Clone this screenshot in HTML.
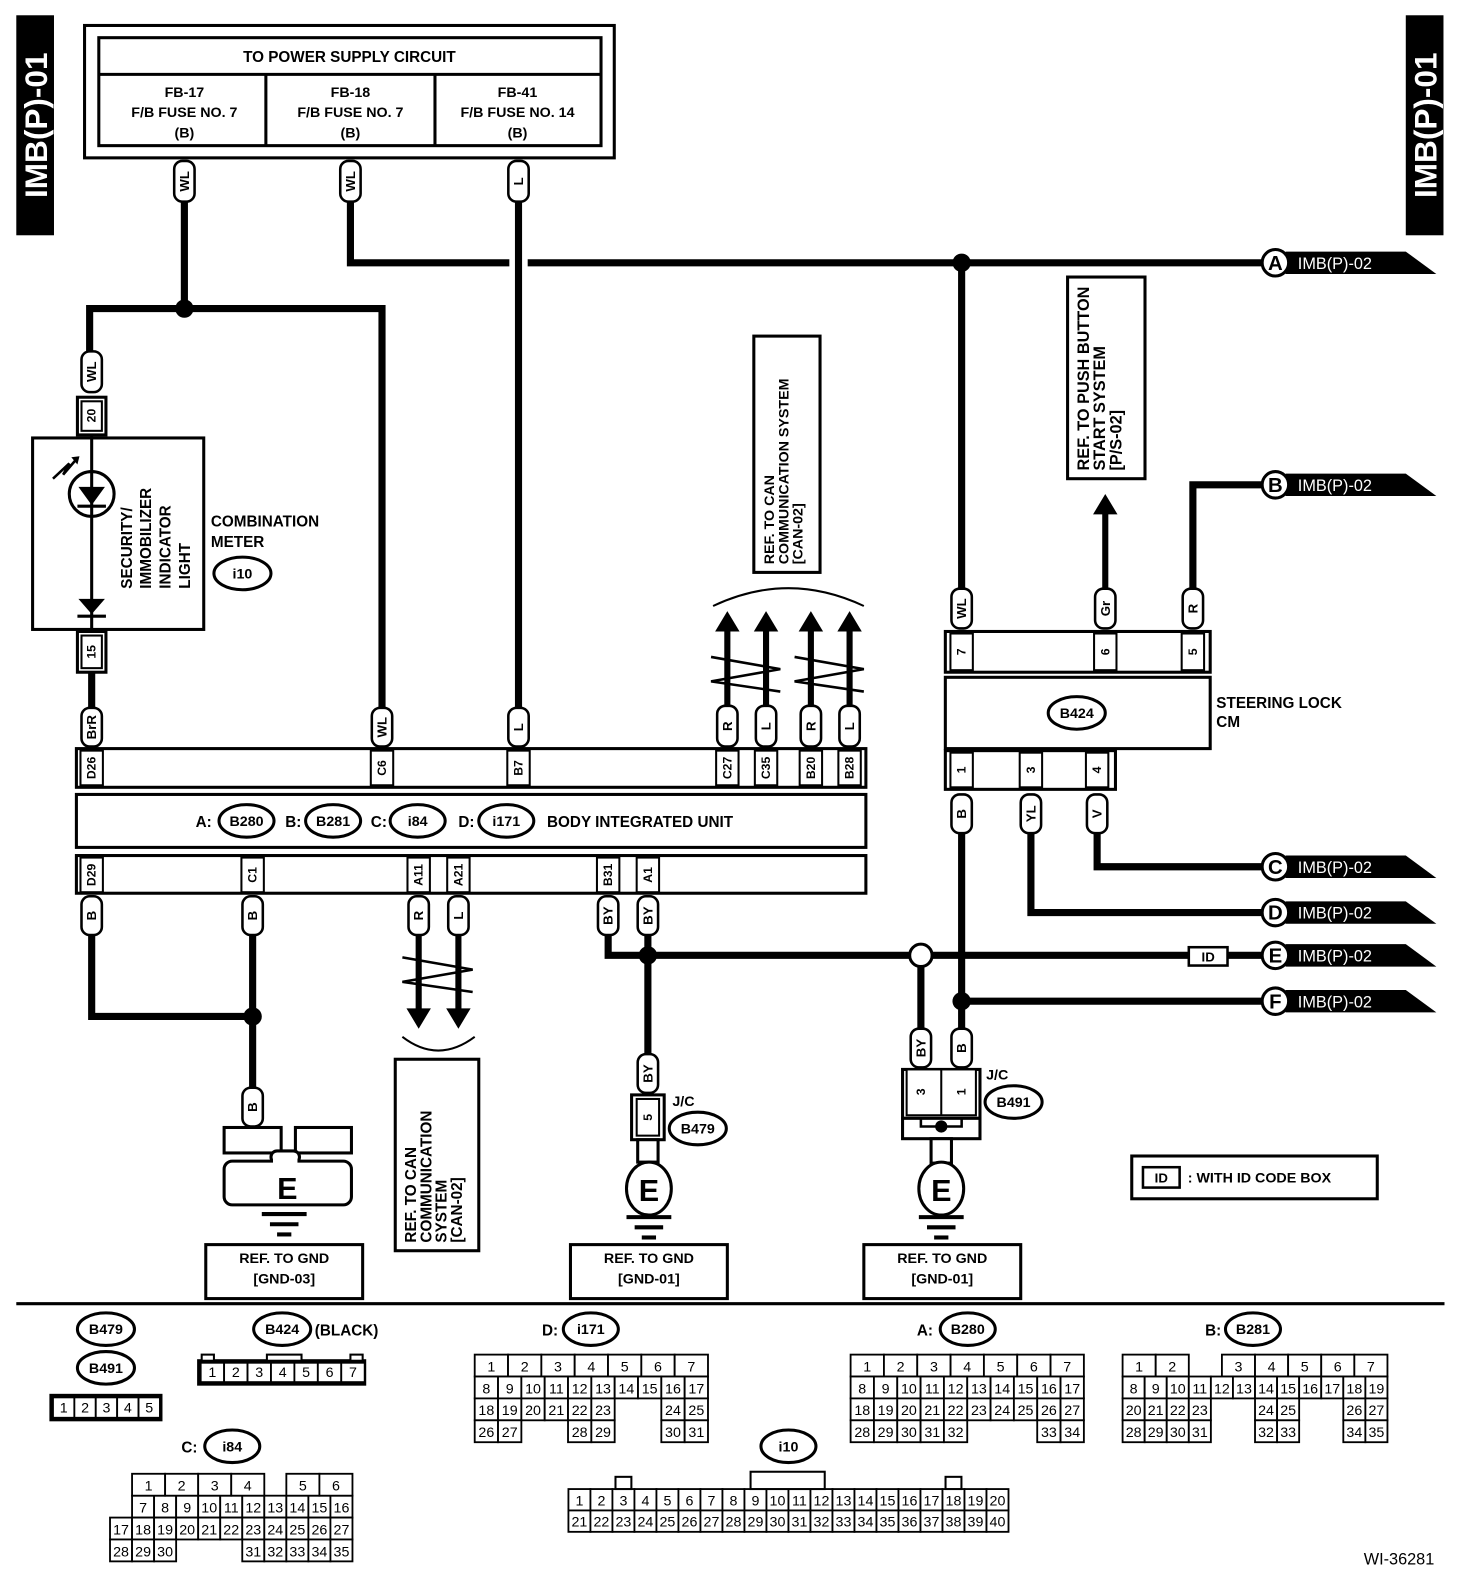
<!DOCTYPE html>
<html><head><meta charset="utf-8"><style>
html,body{margin:0;padding:0;background:#fff}
svg{display:block}
text{font-family:"Liberation Sans",sans-serif;font-weight:bold;fill:#000}
</style></head><body>
<svg id="s" width="1472" height="1596" viewBox="0 0 1445 1567" preserveAspectRatio="none" xmlns="http://www.w3.org/2000/svg">
<rect x="0" y="0" width="1445" height="1567" fill="#fff"/>
<g id="g"></g>
</svg>
<script>
const g=document.getElementById('g');let h='';
function L(x1,y1,x2,y2,w){h+=`<line x1="${x1}" y1="${y1}" x2="${x2}" y2="${y2}" stroke="#000" stroke-width="${w||7}"/>`;}
function P(pts,w){h+=`<polyline points="${pts}" fill="none" stroke="#000" stroke-width="${w||7}" stroke-linejoin="miter"/>`;}
function R(x,y,w,hh,sw,f){h+=`<rect x="${x}" y="${y}" width="${w}" height="${hh}" fill="${f||'#fff'}" stroke="#000" stroke-width="${sw||3}"/>`;}
function T(x,y,t,s,a,extra){h+=`<text x="${x}" y="${y}" font-size="${s||14}" text-anchor="${a||'middle'}" ${extra||''}>${t}</text>`;}
function VT(x,y,t,s,a){h+=`<text transform="translate(${x},${y}) rotate(-90)" font-size="${s||13}" text-anchor="${a||'middle'}" dominant-baseline="central">${t}</text>`;}
function D(x,y,r){h+=`<circle cx="${x}" cy="${y}" r="${r||9}" fill="#000"/>`;}
function pill(x,y1,y2,t){h+=`<rect x="${x-10}" y="${y1}" width="20" height="${y2-y1}" rx="8" fill="#fff" stroke="#000" stroke-width="2.5"/>`;VT(x,(y1+y2)/2,t,13);}
function oval(x,y,t,w){w=w||30;h+=`<ellipse cx="${x}" cy="${y}" rx="${w}" ry="16" fill="#fff" stroke="#000" stroke-width="3"/>`;T(x,y+5,t,14);}
function pin(x,y,hh,t){R(x-11,y,22,hh,2);VT(x,y+hh/2,t,12);}
function tag(y,l){h+=`<polygon points="1262,${y-11} 1380,${y-11} 1410,${y+11} 1262,${y+11}" fill="#000"/>`;h+=`<circle cx="1252" cy="${y}" r="13" fill="#fff" stroke="#000" stroke-width="3"/>`;T(1252,y+7,l,20);h+=`<text x="1274" y="${y+6}" font-size="16" style="fill:#fff;font-weight:normal">IMB(P)-02</text>`;}
function upArrow(x,yt,yb){L(x,yb,x,yt+18,6);h+=`<polygon points="${x-12},${yt+20} ${x},${yt} ${x+12},${yt+20}" fill="#000"/>`;}
function dnArrow(x,yt,yb){L(x,yt,x,yb-18,6);h+=`<polygon points="${x-12},${yb-20} ${x},${yb} ${x+12},${yb-20}" fill="#000"/>`;}
function twist(x1,x2,y){P(`${x1-16},${y} ${x2+14},${y+12} ${x1-16},${y+24} ${x2+14},${y+34}`,2.5);}
function gnd(x,y){L(x-22,y,x+22,y,4);L(x-14,y+10,x+14,y+10,4);L(x-7,y+20,x+7,y+20,4);}
function refbox(x,y,w,hh,lines){R(x,y,w,hh,3);lines.forEach((l,i)=>T(x+w/2,y+18+i*20,l,14));}
function vref(x,y,w,hh,lines,s){R(x,y,w,hh,3);lines.forEach((l,i)=>VT(x+16+i*(s||15),y+hh-8,l,s||14,'start'));}

h+=`<rect x="16" y="15" width="37" height="216" fill="#000"/><rect x="1380" y="15" width="37" height="216" fill="#000"/>`;
h+=`<text transform="translate(46,123) rotate(-90)" font-size="31" text-anchor="middle" style="fill:#fff">IMB(P)-01</text>`;
h+=`<text transform="translate(1410,123) rotate(-90)" font-size="31" text-anchor="middle" style="fill:#fff">IMB(P)-01</text>`;

R(83,25,520,130,3);R(97,37,493,106,3);L(97,73,590,73,3);L(261,73,261,143,3);L(427,73,427,143,3);
T(343,61,'TO POWER SUPPLY CIRCUIT',15);
[[181,'FB-17','F/B FUSE NO. 7'],[344,'FB-18','F/B FUSE NO. 7'],[508,'FB-41','F/B FUSE NO. 14']].forEach(c=>{T(c[0],95,c[1],14);T(c[0],115,c[2],14);T(c[0],135,'(B)',14);});

L(181,198,181,303);P('88,345 88,303 375,303 375,695');D(181,303);
P('344,198 344,258 500,258');L(518,258,1240,258);D(944,258);
L(509,198,509,695);
pill(181,158,198,'WL');pill(344,158,198,'WL');pill(509,158,198,'L');
tag(258,'A');

R(32,430,168,188,3);
L(90,425,90,622,3);
R(76,390,28,37,3);R(80,394,20,29,2);VT(90,408,'20',12);
R(76,620,28,40,3);R(80,624,20,32,2);VT(90,640,'15',12);
pill(90,345,385,'WL');
h+=`<circle cx="90" cy="485" r="22" fill="#fff" stroke="#000" stroke-width="3"/>`;L(90,463,90,507,3);
h+=`<polygon points="77,478 103,478 90,496" fill="#000"/>`;L(76,497,104,497,3);
h+=`<polyline points="52,470 68,455 62,466 74,452" fill="none" stroke="#000" stroke-width="2.5"/><polygon points="70,449 78,448 76,456" fill="#000"/>`;
h+=`<polygon points="77,588 103,588 90,603" fill="#000"/>`;L(76,605,104,605,3);
['SECURITY/','IMMOBILIZER','INDICATOR','LIGHT'].forEach((t,i)=>VT(125+i*19,578,t,15,'start'));
T(207,517,'COMBINATION',15,'start');T(207,537,'METER',15,'start');oval(238,563,'i10',28);
L(90,660,90,695);pill(90,695,733,'BrR');pill(375,695,733,'WL');pill(509,695,733,'L');

R(75,735,775,38,3);R(75,780,775,52,3);R(75,840,775,37,3);
[[90,'D26'],[375,'C6'],[509,'B7'],[714,'C27'],[752,'C35'],[796,'B20'],[834,'B28']].forEach(p=>pin(p[0],737,34,p[1]));
[[90,'D29'],[248,'C1'],[411,'A11'],[450,'A21'],[597,'B31'],[636,'A1']].forEach(p=>pin(p[0],842,34,p[1]));
T(192,812,'A:',15,'start');oval(242,806,'B280',27);T(280,812,'B:',15,'start');oval(327,806,'B281',27);
T(364,812,'C:',15,'start');oval(410,806,'i84',27);T(450,812,'D:',15,'start');oval(497,806,'i171',27);
T(537,812,'BODY INTEGRATED UNIT',15,'start');

[[714,'R'],[752,'L'],[796,'R'],[834,'L']].forEach(p=>{upArrow(p[0],600,693);pill(p[0],693,733,p[1]);});
twist(714,752,645);twist(796,834,645);
h+=`<path d="M700,595 Q774,560 848,595" fill="none" stroke="#000" stroke-width="2"/>`;
vref(740,330,65,232,['REF. TO CAN','COMMUNICATION SYSTEM','[CAN-02]'],14);

pill(90,880,918,'B');pill(248,880,918,'B');P('90,918 90,998 248,998');L(248,918,248,1068);D(248,998);pill(248,1068,1106,'B');
// ground block E
R(220,1107,56,25,3);R(290,1107,55,25,3);
h+=`<path d="M226,1132 q-6,6 0,12 v-12 M226,1132 h44 v13 q-6,0 -6,0" fill="none" stroke="#000" stroke-width="0"/>`;
h+=`<rect x="266" y="1130" width="28" height="12" fill="#fff" stroke="#000" stroke-width="3" rx="6"/>`;
h+=`<rect x="220" y="1140" width="125" height="43" rx="8" fill="#fff" stroke="#000" stroke-width="3"/>`;
h+=`<rect x="268" y="1135" width="24" height="9" fill="#fff"/>`;
T(282,1177,'E',30);gnd(279,1192);refbox(202,1222,154,53,['REF. TO GND','[GND-03]']);

[[411,'R'],[450,'L']].forEach(p=>{dnArrow(p[0],918,1010);pill(p[0],880,918,p[1]);});twist(411,450,940);
h+=`<path d="M395,1018 Q430,1045 466,1018" fill="none" stroke="#000" stroke-width="2"/>`;
vref(388,1040,82,188,['REF. TO CAN','COMMUNICATION','SYSTEM','[CAN-02]'],15);

pill(597,880,918,'BY');pill(636,880,918,'BY');
P('597,918 597,938 893,938');L(915,938,1167,938);L(1205,938,1240,938);D(636,938);L(636,918,636,1035);
h+=`<circle cx="904" cy="938" r="11" fill="#fff" stroke="#000" stroke-width="3"/>`;
R(1167,930,38,18,2.5);T(1186,944,'ID',13);tag(938,'E');
pill(636,1035,1073,'BY');R(620,1075,32,44,3);R(625,1079,22,36,2);VT(636,1097,'5',12);
T(660,1086,'J/C',14,'start');oval(685,1108,'B479',28);
R(626,1119,20,22,3);h+=`<ellipse cx="637" cy="1167" rx="22" ry="26" fill="#fff" stroke="#000" stroke-width="3"/>`;T(637,1179,'E',30);
gnd(637,1195);refbox(560,1222,154,53,['REF. TO GND','[GND-01]']);

L(944,258,944,580);pill(944,578,617,'WL');
R(928,620,260,40,3);R(928,665,260,70,3);R(928,737,167,38,3);
[[944,'7'],[1085,'6'],[1171,'5']].forEach(p=>pin(p[0],622,36,p[1]));
[[944,'1'],[1012,'3'],[1077,'4']].forEach(p=>pin(p[0],739,34,p[1]));
oval(1057,700,'B424',28);T(1194,695,'STEERING LOCK',15,'start');T(1194,714,'CM',15,'start');
upArrow(1085,485,580);pill(1085,578,617,'Gr');
vref(1048,272,76,198,['REF. TO PUSH BUTTON','START SYSTEM','[P/S-02]'],16);
P('1171,580 1171,476 1240,476');pill(1171,578,617,'R');tag(476,'B');
P('1077,818 1077,851 1240,851');pill(1077,780,818,'V');tag(851,'C');
P('1012,818 1012,896 1240,896');pill(1012,780,818,'YL');tag(896,'D');
L(944,818,944,1010);L(944,983,1240,983);D(944,983);pill(944,780,818,'B');tag(983,'F');
L(904,949,904,1010);pill(904,1010,1048,'BY');pill(944,1010,1048,'B');
R(886,1050,76,48,3);R(890,1050,68,45,2);L(924,1050,924,1095,2);VT(904,1072,'3',12);VT(944,1072,'1',12);
R(886,1098,76,20,3);P('904,1098 904,1106 944,1106 944,1098',2.5);D(924,1106,6);
T(968,1060,'J/C',14,'start');oval(995,1082,'B491',28);
R(914,1118,20,24,3);h+=`<ellipse cx="924" cy="1167" rx="22" ry="26" fill="#fff" stroke="#000" stroke-width="3"/>`;T(924,1179,'E',30);
gnd(924,1195);refbox(848,1222,154,53,['REF. TO GND','[GND-01]']);

R(1111,1135,241,42,3);R(1122,1146,36,20,2.5);T(1140,1161,'ID',13);T(1166,1161,': WITH ID CODE BOX',14,'start');

L(16,1280,1418,1280,3);

function cell(x,y,w,hh,t){R(x,y,w,hh,1.8);T(x+w/2,y+hh-5,t,14,'middle','style="font-weight:normal"');}
function grid(x0,y0,rows,rh){rows.forEach((r,ri)=>{r.c.forEach((s,i)=>{cell(x0+s[0]*r.w,y0+ri*rh,r.w*(s[2]||1),rh,s[1]);});});}
function seq(start,slots){return slots.map((s,i)=>[s,String(start+i)]);}
function rng(a,b){let r=[];for(let i=a;i<=b;i++)r.push(i);return r;}
oval(104,1305,'B479',28);oval(104,1343,'B491',28);
R(50,1370,108,24,3);for(let i=0;i<5;i++)cell(52+i*21,1372,21,20,String(i+1));
oval(277,1305,'B424',28);T(309,1311,'(BLACK)',15,'start');
R(195,1336,163,23,3);for(let i=0;i<7;i++)cell(197+i*23,1338,23,19,String(i+1));
R(198,1330,12,6,2);R(262,1330,34,6,2);R(344,1330,12,6,2);
T(532,1311,'D:',15,'start');oval(580,1305,'i171',27);
let w7=229/7,w10=229/10;
grid(466,1330,[{w:w7,c:seq(1,rng(0,6))},{w:w10,c:seq(8,rng(0,9))},{w:w10,c:seq(18,[0,1,2,3,4,5,8,9])},{w:w10,c:[[0,'26'],[1,'27'],[4,'28'],[5,'29'],[8,'30'],[9,'31']]}],21.5);
T(900,1311,'A:',15,'start');oval(950,1305,'B280',27);
grid(835,1330,[{w:w7,c:seq(1,rng(0,6))},{w:w10,c:seq(8,rng(0,9))},{w:w10,c:seq(18,rng(0,9))},{w:w10,c:[[0,'28'],[1,'29'],[2,'30'],[3,'31'],[4,'32'],[8,'33'],[9,'34']]}],21.5);
T(1183,1311,'B:',15,'start');oval(1230,1305,'B281',27);
let w8=260/8,w12=260/12;
grid(1102,1330,[{w:w8,c:[[0,'1'],[1,'2'],[3,'3'],[4,'4'],[5,'5'],[6,'6'],[7,'7']]},{w:w12,c:seq(8,rng(0,11))},{w:w12,c:seq(20,[0,1,2,3,6,7,10,11])},{w:w12,c:seq(28,[0,1,2,3,6,7,10,11])}],21.5);
T(178,1426,'C:',15,'start');oval(228,1420,'i84',27);
let w11=238/11;
grid(108,1447,[{w:w11,c:[]},{w:w11,c:seq(7,rng(1,10))},{w:w11,c:seq(17,rng(0,10))},{w:w11,c:seq(28,[0,1,2]).concat(seq(31,[6,7,8,9,10]))}],21.5);
let r1w=w11*1.5;[0,1,2,3].forEach(i=>cell(108+w11+i*r1w,1447,r1w,21.5,String(i+1)));
cell(108+w11*8,1447,r1w,21.5,'5');cell(108+w11*9.5,1447,r1w,21.5,'6');
oval(774,1420,'i10',27);
let w20=432/20;
for(let i=0;i<20;i++){cell(558+i*w20,1462,w20,21,String(i+1));cell(558+i*w20,1483,w20,21,String(i+21));}
R(558+2*w20+3,1450,w20-6,12,2);R(558+8*w20+6,1445,3*w20+8,17,2);R(558+17*w20+3,1450,w20-6,12,2);
T(1408,1536,'WI-36281',16,'end','style="font-weight:normal"');

g.innerHTML=h;
</script>
</body></html>
